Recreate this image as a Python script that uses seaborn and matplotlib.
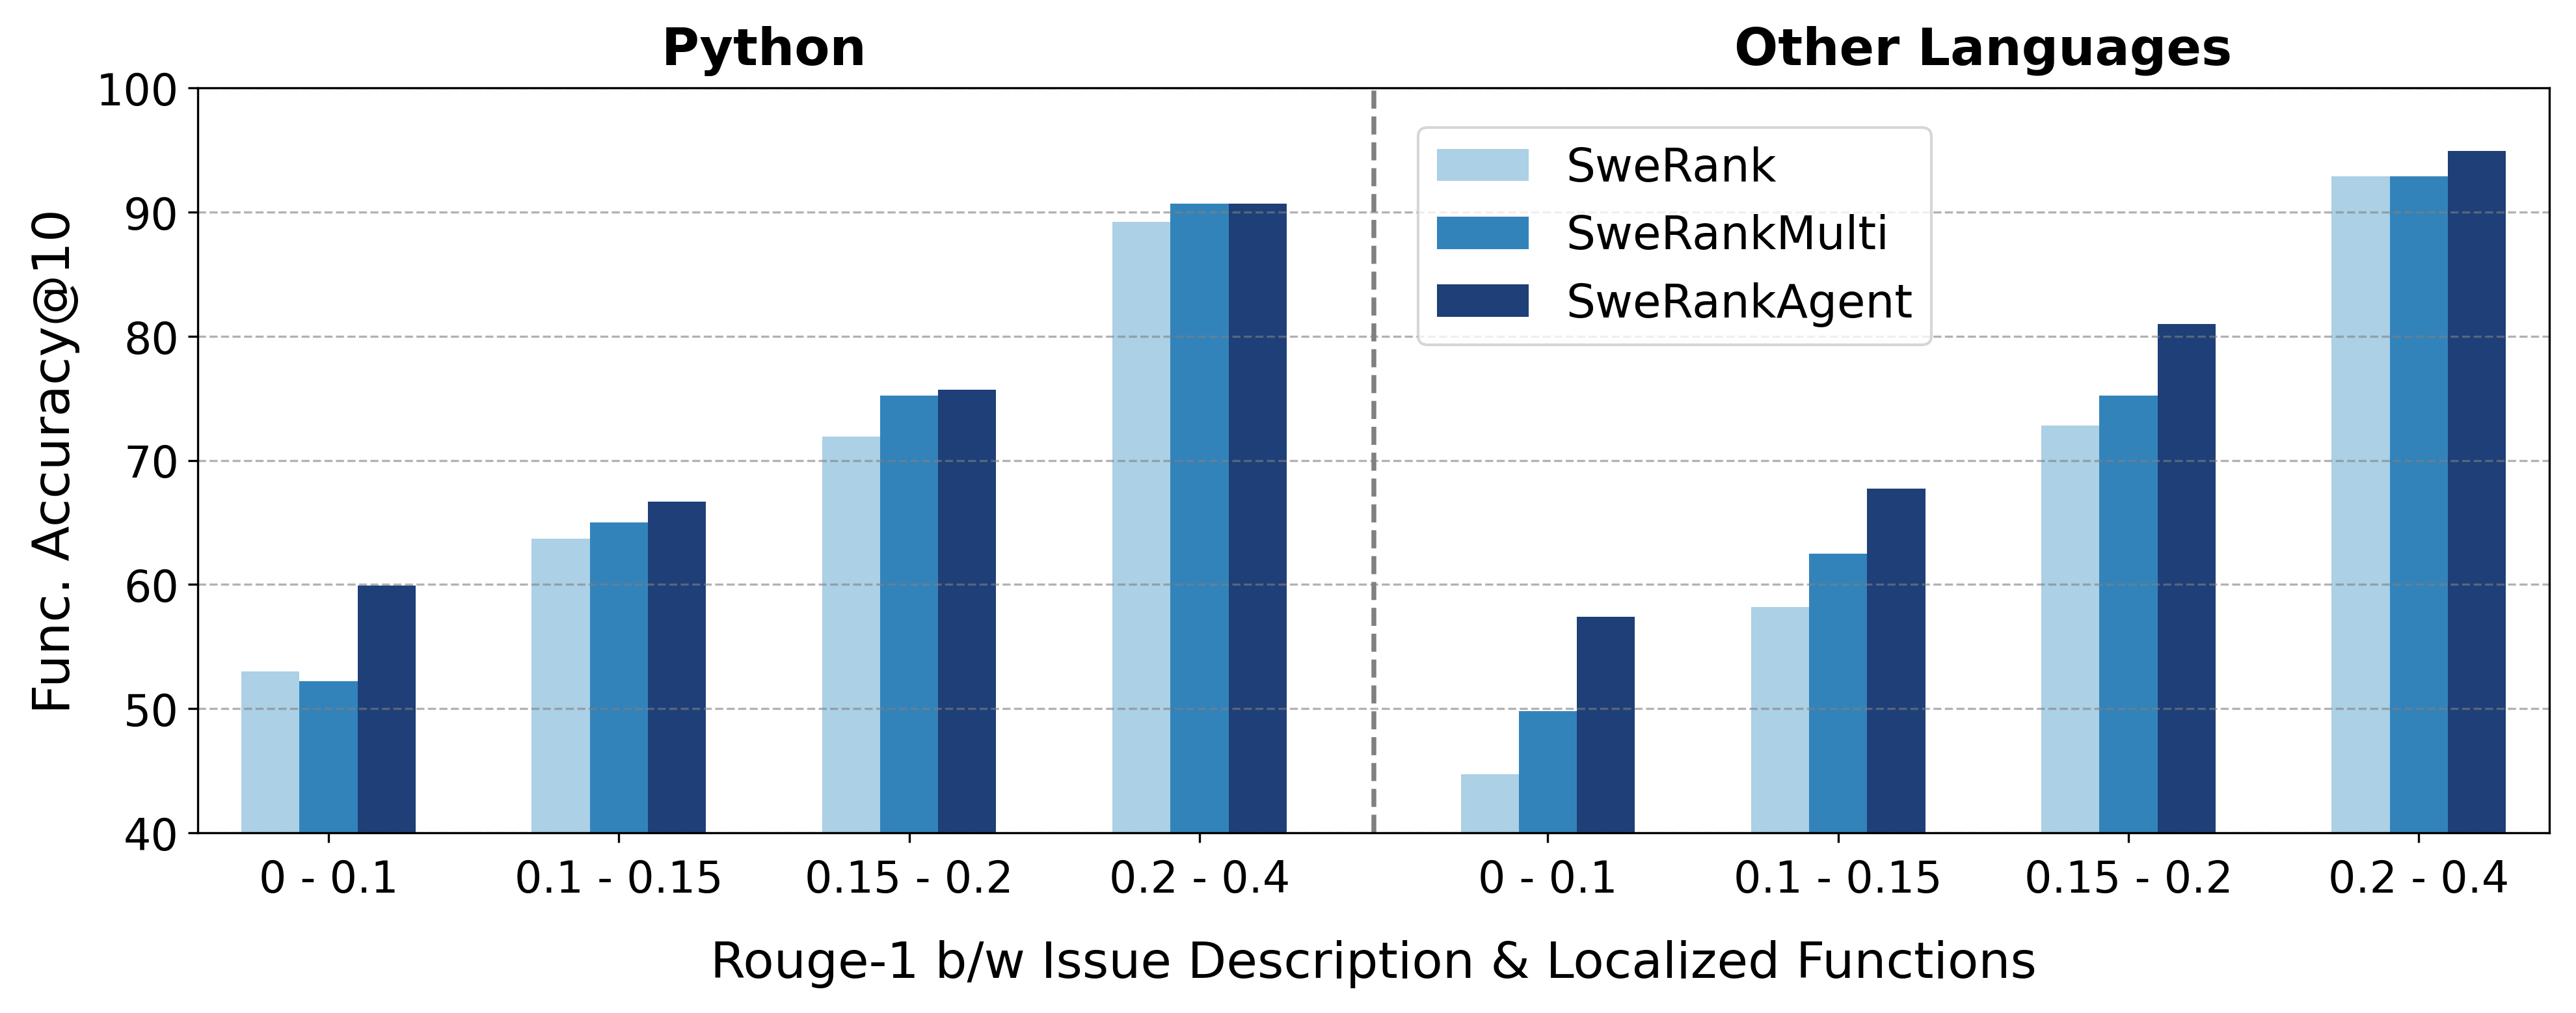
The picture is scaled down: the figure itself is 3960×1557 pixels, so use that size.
import matplotlib
matplotlib.use("Agg")
import matplotlib.pyplot as plt
import seaborn as sns
import pandas as pd

# bins of Rouge-1 overlap, same for both panels
BINS = ["0 - 0.1", "0.1 - 0.15", "0.15 - 0.2", "0.2 - 0.4"]
MODELS = ["SweRank", "SweRankMulti", "SweRankAgent"]
GROUPS = ["Python", "Other Languages"]

# Func. Accuracy@10
python_swerank = [53.0, 63.7, 71.9, 89.2]
python_multi = [52.2, 65.0, 75.2, 90.7]
python_agent = [59.9, 66.7, 75.7, 90.7]
other_swerank = [44.7, 58.2, 72.8, 92.9]
other_multi = [49.8, 62.5, 75.2, 92.9]
other_agent = [57.4, 67.7, 81.0, 94.9]

COLOURS = ["#acd0e5", "#3383bb", "#1e3f77"]
GROUP_GAP = 1.2  # distance between last python bin and first other bin


def build_frame():
    series = {
        "Python": [python_swerank, python_multi, python_agent],
        "Other Languages": [other_swerank, other_multi, other_agent],
    }
    rows = []
    for g_idx, group in enumerate(GROUPS):
        offset = g_idx * (len(BINS) - 1 + GROUP_GAP)
        for m_idx, model in enumerate(MODELS):
            for b_idx, b in enumerate(BINS):
                rows.append({
                    "group": group,
                    "bin": b,
                    "model": model,
                    "pos": offset + b_idx,
                    "acc": series[group][m_idx][b_idx],
                })
    return pd.DataFrame(rows)


def main():
    df = build_frame()

    f, ax = plt.subplots(figsize=(13.2, 5.193))
    f.subplots_adjust(left=0.0768, right=0.9897, top=0.9127, bottom=0.1778)

    sns.barplot(data=df, x="pos", y="acc", hue="model", hue_order=MODELS,
                palette=COLOURS, saturation=1, native_scale=True, width=0.6,
                errorbar=None, linewidth=0, ax=ax)

    # ticks / labels
    ticks = df.drop_duplicates("pos")
    ax.set_xticks(ticks["pos"])
    ax.set_xticklabels(ticks["bin"])
    ax.tick_params(axis="both", labelsize=16)
    ax.tick_params(axis="x", pad=6)
    ax.set_xlim(-0.45, ticks["pos"].max() + 0.45)
    ax.set_ylim(40, 100)
    ax.set_yticks(range(40, 101, 10))
    ax.set_xlabel("Rouge-1 b/w Issue Description & Localized Functions",
                  fontsize=18.6, labelpad=14)
    ax.set_ylabel("Func. Accuracy@10", fontsize=19, labelpad=6)

    ax.grid(axis="y", linestyle="--", color="gray", alpha=0.6)

    # divider between the two panels
    split = len(BINS) - 1 + GROUP_GAP / 2
    ax.axvline(split, color="gray", linestyle="--", linewidth=1.8)

    # group titles, centred over their bins
    for group, sub in ticks.groupby("group", sort=False):
        ax.text(sub["pos"].mean(), 101.9, group, ha="center", va="baseline",
                fontsize=19, fontweight="bold", clip_on=False)

    ax.legend(loc="upper left", bbox_to_anchor=(0.519, 0.947), fontsize=17,
              labelspacing=0.5, borderaxespad=0, title=None)

    f.savefig("out.png", dpi=300)


if __name__ == "__main__":
    main()
